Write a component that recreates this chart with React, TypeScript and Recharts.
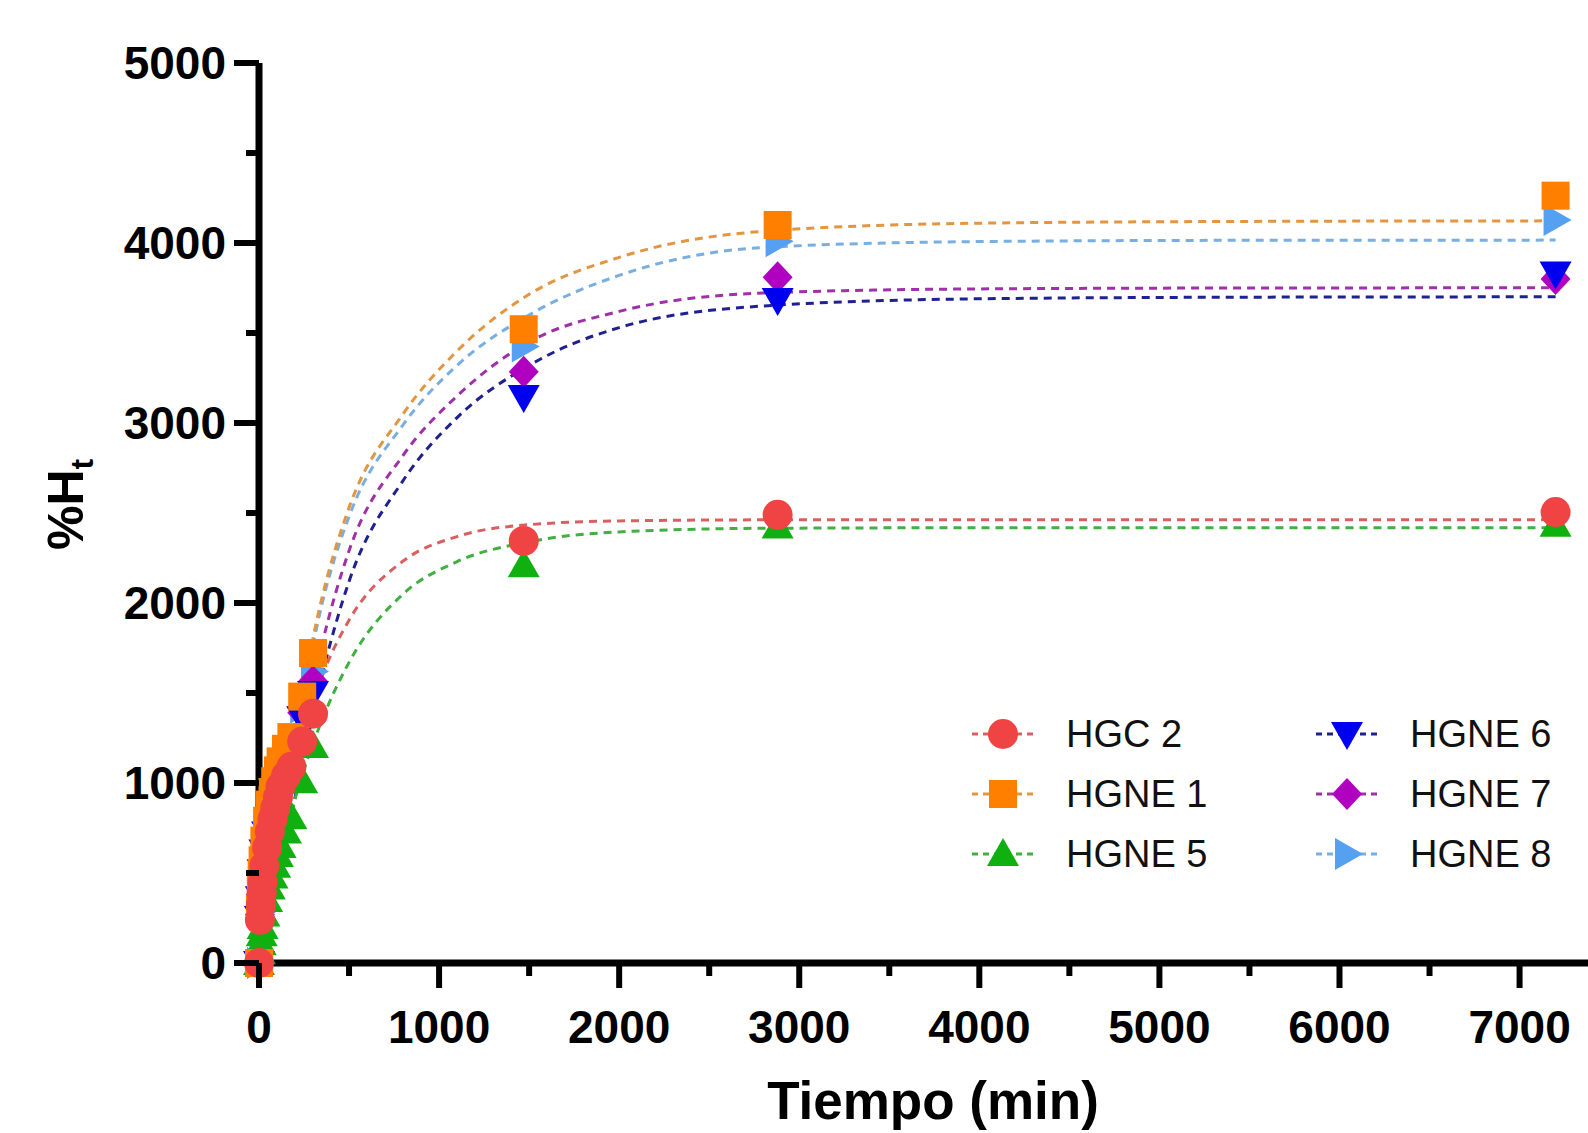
import { ComposedChart, Line, Scatter, XAxis, YAxis, Legend } from "recharts";

// tiempos de muestreo (min)
const tiempos = [0, 5, 10, 15, 20, 30, 45, 60, 75, 90, 105, 120, 150, 180, 240, 300, 1470, 2880, 7200];

// %Ht medido
const hgc2 = [0, 240, 320, 390, 450, 540, 640, 730, 800, 860, 920, 980, 1040, 1090, 1230, 1385, 2345, 2490, 2505];
const hgne1 = [0, 300, 420, 500, 570, 680, 790, 880, 950, 1010, 1070, 1120, 1190, 1255, 1480, 1722, 3521, 4100, 4263];
const hgne5 = [0, 60, 110, 160, 200, 270, 350, 420, 480, 540, 600, 650, 730, 810, 1010, 1205, 2210, 2425, 2435];
const hgne6 = [0, 250, 360, 440, 510, 620, 720, 800, 870, 930, 990, 1040, 1110, 1170, 1360, 1500, 3144, 3684, 3830];
const hgne7 = [0, 270, 380, 460, 530, 640, 740, 830, 900, 960, 1020, 1070, 1140, 1200, 1390, 1565, 3285, 3810, 3800];
const hgne8 = [0, 280, 400, 480, 550, 660, 760, 850, 920, 980, 1040, 1090, 1160, 1230, 1420, 1620, 3425, 4010, 4128];

// curvas de ajuste
const tiemposAjuste = [0, 50, 100, 200, 350, 500, 800, 1100, 1500, 2000, 2800, 4000, 5500, 7200];
const ajusteHgc2 = [0, 340, 634, 1104, 1592, 1904, 2233, 2369, 2435, 2456, 2462, 2463, 2463, 2463];
const ajusteHgne1 = [0, 380, 720, 1290, 2030, 2530, 3050, 3400, 3715, 3920, 4065, 4110, 4120, 4123];
const ajusteHgne5 = [0, 270, 510, 910, 1350, 1670, 2050, 2230, 2340, 2395, 2415, 2418, 2418, 2418];
const ajusteHgne6 = [0, 250, 480, 920, 1600, 2120, 2680, 3030, 3320, 3530, 3650, 3690, 3699, 3701];
const ajusteHgne7 = [0, 290, 560, 1040, 1770, 2290, 2820, 3150, 3450, 3620, 3722, 3745, 3750, 3751];
const ajusteHgne8 = [0, 360, 690, 1240, 1995, 2480, 2990, 3320, 3600, 3820, 3975, 4008, 4015, 4016];

const xTicks = [0, 500, 1000, 1500, 2000, 2500, 3000, 3500, 4000, 4500, 5000, 5500, 6000, 6500, 7000];
const yTicks = [0, 500, 1000, 1500, 2000, 2500, 3000, 3500, 4000, 4500, 5000];

const FONT = '"Liberation Sans", Arial, sans-serif';

type Kind = "circle" | "square" | "up" | "down" | "diamond" | "right";

const toPts = (xs: number[], ys: number[]) => xs.map((t, i) => ({ t, v: ys[i] }));

const series = [
  { name: "HGC 2", fill: "#F04444", line: "#D86060", kind: "circle" as Kind, pts: hgc2, fit: ajusteHgc2 },
  { name: "HGNE 1", fill: "#FF8000", line: "#E39540", kind: "square" as Kind, pts: hgne1, fit: ajusteHgne1 },
  { name: "HGNE 5", fill: "#10B010", line: "#40B040", kind: "up" as Kind, pts: hgne5, fit: ajusteHgne5 },
  { name: "HGNE 6", fill: "#0000F0", line: "#202090", kind: "down" as Kind, pts: hgne6, fit: ajusteHgne6 },
  { name: "HGNE 7", fill: "#B000C0", line: "#A030A8", kind: "diamond" as Kind, pts: hgne7, fit: ajusteHgne7 },
  { name: "HGNE 8", fill: "#55A0F0", line: "#78AEE0", kind: "right" as Kind, pts: hgne8, fit: ajusteHgne8 },
];

const Marker = ({ cx, cy, kind, fill }: { cx: number; cy: number; kind: Kind; fill: string }) => {
  const r = 15;
  switch (kind) {
    case "circle":
      return <circle cx={cx} cy={cy} r={r} fill={fill} />;
    case "square":
      return <rect x={cx - 14} y={cy - 14} width={28} height={28} fill={fill} />;
    case "up":
      return <polygon points={`${cx},${cy - 16} ${cx + 16},${cy + 12} ${cx - 16},${cy + 12}`} fill={fill} />;
    case "down":
      return <polygon points={`${cx},${cy + 16} ${cx + 16},${cy - 12} ${cx - 16},${cy - 12}`} fill={fill} />;
    case "diamond":
      return <polygon points={`${cx},${cy - 16} ${cx + 15},${cy} ${cx},${cy + 16} ${cx - 15},${cy}`} fill={fill} />;
    default:
      return <polygon points={`${cx + 16},${cy} ${cx - 12},${cy + 16} ${cx - 12},${cy - 16}`} fill={fill} />;
  }
};

const XTick = (props: any) => {
  const { x, y, payload } = props;
  const major = payload.value % 1000 === 0;
  return (
    <g>
      <line x1={x} x2={x} y1={y} y2={y + (major ? 25 : 13)} stroke="#000" strokeWidth={6} />
      {major && (
        <text x={x} y={y + 80} textAnchor="middle" fontFamily={FONT} fontWeight="bold" fontSize={46} fill="#000">
          {payload.value}
        </text>
      )}
    </g>
  );
};

const YTick = (props: any) => {
  const { x, y, payload } = props;
  const major = payload.value % 1000 === 0;
  return (
    <g>
      <line x1={x - (major ? 25 : 13)} x2={x} y1={y} y2={y} stroke="#000" strokeWidth={6} />
      {major && (
        <text x={x - 33} y={y + 16} textAnchor="end" fontFamily={FONT} fontWeight="bold" fontSize={46} fill="#000">
          {payload.value}
        </text>
      )}
    </g>
  );
};

const renderYLabel = () => (
  <text transform="translate(83,550) rotate(-90)" fontFamily={FONT} fontWeight="bold" fontSize={50} fill="#000">
    %H
    <tspan fontSize={32} dy={10}>t</tspan>
  </text>
);

const renderXLabel = () => (
  <text x={933} y={1119} textAnchor="middle" fontFamily={FONT} fontWeight="bold" fontSize={53} fill="#000">
    Tiempo (min)
  </text>
);

const renderLegend = () => {
  const rows = [0, 60, 120];
  const cols = [0, 344];
  return (
    <svg width={640} height={200}>
      {series.map((s, i) => {
        const cx = 63 + cols[Math.floor(i / 3)];
        const cy = 44 + rows[i % 3];
        return (
          <g key={s.name}>
            <line x1={cx - 31} x2={cx + 31} y1={cy} y2={cy} stroke={s.line} strokeWidth={3} strokeDasharray="6 5" />
            <Marker cx={cx} cy={cy} kind={s.kind} fill={s.fill} />
            <text x={cx + 63} y={cy + 13} fontFamily={FONT} fontSize={38} fill="#111">
              {s.name}
            </text>
          </g>
        );
      })}
    </svg>
  );
};

export default function App() {
  const drawOrder = [...series].reverse();
  return (
    <div style={{ position: "fixed", left: 0, top: 0, width: 1588, height: 1133, overflow: "hidden", background: "#fff" }}>
      <ComposedChart width={1588} height={1133} margin={{ top: 63, right: 0, left: 0, bottom: 0 }}>
        <XAxis
          type="number"
          dataKey="t"
          domain={[0, 7380]}
          ticks={xTicks}
          interval={0}
          tickSize={0}
          tickMargin={0}
          tickLine={false}
          tick={<XTick />}
          axisLine={{ stroke: "#000", strokeWidth: 7 }}
          height={170}
          label={{ content: renderXLabel }}
        />
        <YAxis
          type="number"
          domain={[0, 5000]}
          ticks={yTicks}
          interval={0}
          tickSize={0}
          tickMargin={0}
          tickLine={false}
          tick={<YTick />}
          axisLine={{ stroke: "#000", strokeWidth: 7 }}
          width={259}
          label={{ content: renderYLabel }}
        />
        {drawOrder.map((s) => (
          <Line
            key={s.name + "-ajuste"}
            data={toPts(tiemposAjuste, s.fit)}
            dataKey="v"
            type="monotone"
            stroke={s.line}
            strokeWidth={3}
            strokeDasharray="8 6"
            dot={false}
            activeDot={false}
            isAnimationActive={false}
            legendType="none"
          />
        ))}
        {drawOrder.map((s) => (
          <Scatter
            key={s.name}
            name={s.name}
            data={toPts(tiempos, s.pts)}
            dataKey="v"
            fill={s.fill}
            isAnimationActive={false}
            shape={(p: any) => <Marker cx={p.cx} cy={p.cy} kind={s.kind} fill={s.fill} />}
          />
        ))}
        <Legend
          layout="horizontal"
          verticalAlign="middle"
          align="center"
          content={renderLegend}
          wrapperStyle={{ position: "absolute", left: 940, top: 690, width: 640, height: 200 }}
        />
      </ComposedChart>
    </div>
  );
}
